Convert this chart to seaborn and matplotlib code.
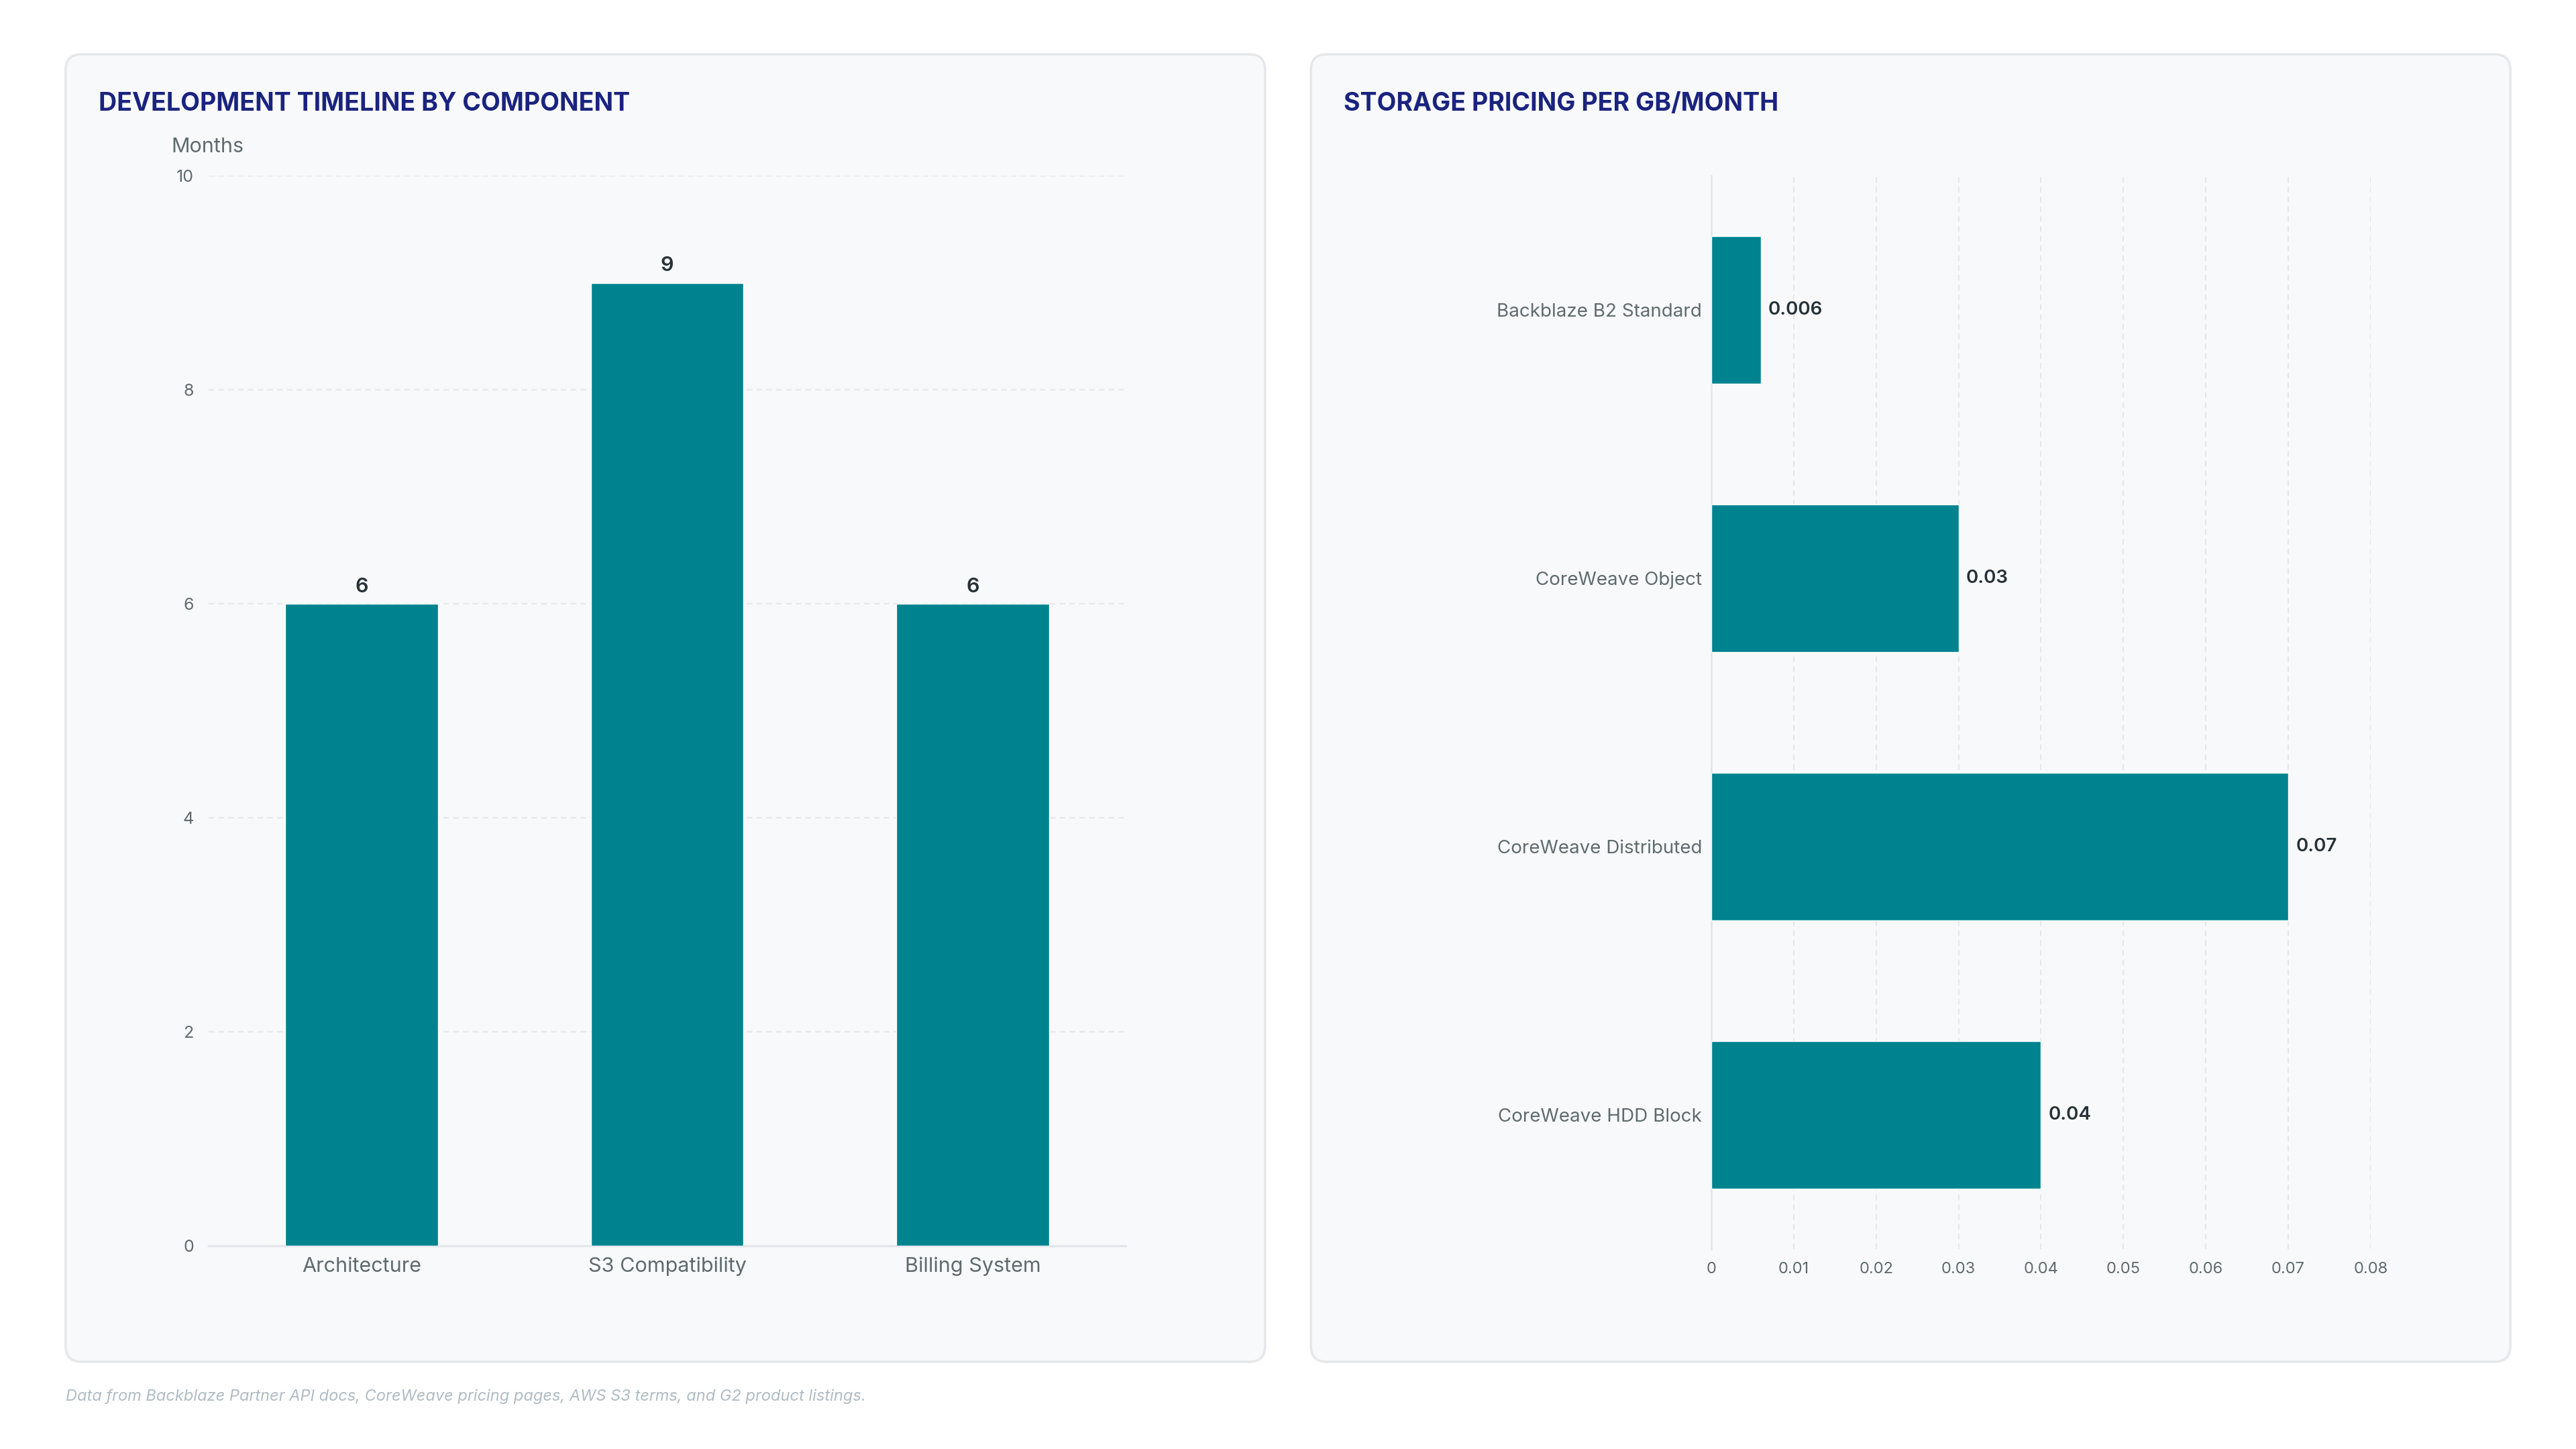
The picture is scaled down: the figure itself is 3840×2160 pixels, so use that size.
import matplotlib
matplotlib.use("Agg")
import matplotlib.pyplot as plt
import seaborn as sns
import pandas as pd
from matplotlib.patches import FancyBboxPatch

# === Data ===
components = ["Architecture", "S3 Compatibility", "Billing System"]
months = [6, 9, 6]

storage_tiers = ["Backblaze B2 Standard", "CoreWeave Object", "CoreWeave Distributed", "CoreWeave HDD Block"]
price_per_gb = [0.006, 0.03, 0.07, 0.04]

month_ticks = [0, 2, 4, 6, 8, 10]
price_ticks = [0, 0.01, 0.02, 0.03, 0.04, 0.05, 0.06, 0.07, 0.08]
price_tick_labels = ["0", "0.01", "0.02", "0.03", "0.04", "0.05", "0.06", "0.07", "0.08"]

# === Style ===
TEAL = "#00838f"
NAVY = "#1a237e"
GRAY = "#5f6b6d"
GRID = "#e6e8eb"
PANEL = "#f8f9fb"

sns.set_theme(style="white")
plt.rcParams["font.family"] = ["Inter", "DejaVu Sans"]

fig = plt.figure(figsize=(38.4, 21.6), dpi=100)
fig.patch.set_facecolor("white")

# Panel cards (behind the axes)
for x0 in [0.0255, 0.5089]:
    card = FancyBboxPatch((x0, 0.0602), 0.4656, 0.9023, boxstyle="round,pad=0,rounding_size=0.006",
                          transform=fig.transFigure, facecolor=PANEL, edgecolor="#e5e7eb",
                          linewidth=2.5, mutation_aspect=3840 / 2160, zorder=-5)
    fig.patches.append(card)

# === Left: development timeline ===
ax1 = fig.add_axes([0.081, 0.1403, 0.356, 0.7384])
dev_df = pd.DataFrame({"component": components, "months": months})
sns.barplot(data=dev_df, x="component", y="months", color=TEAL, width=0.5, saturation=1, ax=ax1, zorder=3)
ax1.set_facecolor("none")
ax1.set_xlim(-0.5, 2.5)
ax1.set_ylim(0, 10)
ax1.set_yticks(month_ticks)
ax1.set_xlabel("")
ax1.set_ylabel("")
ax1.grid(axis="y", color=GRID, linestyle=(0, (4, 3)), linewidth=1.5, zorder=0)
for s in ["top", "right", "left"]:
    ax1.spines[s].set_visible(False)
ax1.spines["bottom"].set_color("#e5e7eb")
ax1.spines["bottom"].set_linewidth(2.5)
ax1.tick_params(axis="y", length=0, labelsize=18, labelcolor=GRAY, pad=16)
ax1.tick_params(axis="x", length=0, labelsize=22, labelcolor=GRAY, pad=12)
ax1.bar_label(ax1.containers[0], labels=[f"{v:g}" for v in months], padding=8,
              fontsize=22, fontweight="semibold", color="#263238")

fig.text(0.0383, 0.9283, "DEVELOPMENT TIMELINE BY COMPONENT", fontsize=27, fontweight="bold",
         color=NAVY, va="center", ha="left")
fig.text(0.0664, 0.8985, "Months", fontsize=22, color=GRAY, va="center", ha="left")

# === Right: storage pricing ===
ax2 = fig.add_axes([0.6643, 0.138, 0.256, 0.7407])
price_df = pd.DataFrame({"tier": storage_tiers, "price": price_per_gb})
sns.barplot(data=price_df, x="price", y="tier", orient="h", color=TEAL, width=0.55, saturation=1,
            ax=ax2, zorder=3)
ax2.set_facecolor("none")
ax2.set_xlim(0, 0.08)
ax2.set_ylim(3.5, -0.5)
ax2.set_xticks(price_ticks)
ax2.set_xticklabels(price_tick_labels)
ax2.set_xlabel("")
ax2.set_ylabel("")
ax2.grid(axis="x", color=GRID, linestyle=(0, (4, 3)), linewidth=1.5, zorder=0)
for s in ["top", "right", "bottom"]:
    ax2.spines[s].set_visible(False)
ax2.spines["left"].set_color("#e5e7eb")
ax2.spines["left"].set_linewidth(2)
ax2.tick_params(axis="y", length=0, labelsize=20, labelcolor=GRAY, pad=10)
ax2.tick_params(axis="x", length=0, labelsize=17, labelcolor=GRAY, pad=14)
ax2.bar_label(ax2.containers[0], labels=[f"{v:g}" for v in price_per_gb], padding=8,
              fontsize=20, fontweight="semibold", color="#263238")

fig.text(0.5216, 0.9283, "STORAGE PRICING PER GB/MONTH", fontsize=27, fontweight="bold",
         color=NAVY, va="center", ha="left")

# Footnote
fig.text(0.0255, 0.036, "Data from Backblaze Partner API docs, CoreWeave pricing pages, AWS S3 terms, and G2 product listings.",
         fontsize=17, style="italic", color="#b0bcc4", va="center", ha="left")

fig.savefig("out.png", dpi=100, facecolor="white")
plt.close(fig)
